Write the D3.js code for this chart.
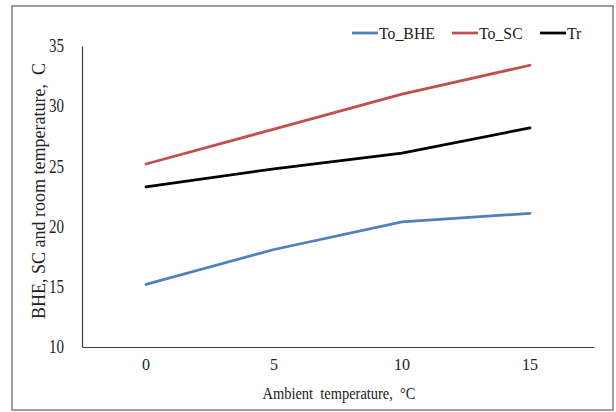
<!DOCTYPE html>
<html><head><meta charset="utf-8">
<script src="https://cdn.jsdelivr.net/npm/d3@7"></script>
<style>body{margin:0;background:#fff;}svg{display:block;} text{font-family:'Times New Roman','Liberation Serif',Times,serif;}</style>
</head><body>
<script>
const categories = ["0", "5", "10", "15"];
const toBHE = [15.2, 18.1, 20.4, 21.1];
const toSC = [25.2, 28.1, 31.0, 33.4];
const tr = [23.3, 24.8, 26.1, 28.2];
const yTicks = [10, 15, 20, 25, 30, 35];
const seriesNames = ["To_BHE", "To_SC", "Tr"];
const seriesColors = ["#4F81BD", "#C0504D", "#000000"];
const series = [toBHE, toSC, tr];

(function () {
const W = 616, H = 412;
const svg = d3.select("body").append("svg").attr("width", W).attr("height", H);
svg.append("rect").attr("x", 12).attr("y", 6).attr("width", 601).attr("height", 404)
  .attr("fill", "#fff").attr("stroke", "#7f7f7f").attr("stroke-width", 1.5);

const mLeft = 82, mRight = 594, mTop = 46, mBottom = 347;
const x = d3.scaleBand().domain(categories).range([mLeft, mRight]);
const y = d3.scaleLinear().domain([10, 35]).range([mBottom, mTop]);
const font = "'Times New Roman', 'Liberation Serif', Times, serif";

const yAxis = svg.append("g").attr("transform", `translate(${mLeft},0)`)
  .call(d3.axisLeft(y).tickValues(yTicks).tickSize(0).tickPadding(18));
yAxis.attr("font-family", font);
yAxis.select(".domain").attr("stroke", "#404040").attr("stroke-width", 1.2);
yAxis.selectAll("text").attr("font-family", font).attr("font-size", 18).attr("fill", "#222")
  .attr("textLength", 15).attr("lengthAdjust", "spacingAndGlyphs");

const xAxis = svg.append("g").attr("transform", `translate(0,${mBottom})`)
  .call(d3.axisBottom(x).tickSize(0).tickPadding(12));
xAxis.attr("font-family", font);
xAxis.select(".domain").attr("stroke", "#404040").attr("stroke-width", 1.2);
xAxis.selectAll("text").attr("font-family", font).attr("font-size", 16).attr("fill", "#222");

const line = d3.line().x((d, i) => x(categories[i]) + x.bandwidth() / 2).y(d => y(d));
series.forEach((s, k) => {
  svg.append("path").datum(s).attr("d", line).attr("fill", "none")
    .attr("stroke", seriesColors[k]).attr("stroke-width", 2.75).attr("stroke-linecap", "round");
});

svg.append("text").attr("transform", "translate(339,399) scale(0.85,1)").attr("text-anchor", "middle")
  .attr("font-family", font).attr("font-size", 17).attr("fill", "#222")
  .attr("xml:space", "preserve").text("Ambient  temperature,  °C");
svg.append("text").attr("transform", "translate(45,191) rotate(-90)").attr("text-anchor", "middle")
  .attr("font-family", font).attr("font-size", 18).attr("fill", "#222")
  .attr("xml:space", "preserve").text("BHE, SC and room temperature,  C");

const legX = [352, 452, 540];
const lg = svg.append("g");
seriesNames.forEach((n, k) => {
  lg.append("line").attr("x1", legX[k]).attr("x2", legX[k] + 26).attr("y1", 33).attr("y2", 33)
    .attr("stroke", seriesColors[k]).attr("stroke-width", 2.75);
  lg.append("text").attr("transform", `translate(${legX[k] + 27},39) scale(0.93,1)`)
    .attr("font-family", font).attr("font-size", 17).attr("fill", "#222").text(n);
});
})();
</script>
</body></html>
